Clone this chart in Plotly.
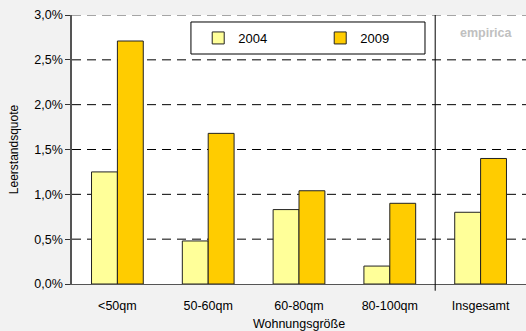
import plotly.graph_objects as go

categories = ["<50qm", "50-60qm", "60-80qm", "80-100qm", "Insgesamt"]
values_2004 = [1.25, 0.48, 0.83, 0.20, 0.80]
values_2009 = [2.71, 1.68, 1.04, 0.90, 1.40]
tick_vals = [0, 0.5, 1.0, 1.5, 2.0, 2.5, 3.0]
tick_text = ["0,0%", "0,5%", "1,0%", "1,5%", "2,0%", "2,5%", "3,0%"]

font = "Liberation Sans, Arial, sans-serif"

fig = go.Figure()
fig.add_trace(go.Bar(x=categories, y=values_2004, name="2004",
                     marker=dict(color="#ffff99", line=dict(color="#222222", width=1))))
fig.add_trace(go.Bar(x=categories, y=values_2009, name="2009",
                     marker=dict(color="#ffcc00", line=dict(color="#222222", width=1))))

shapes = []
for v in tick_vals[1:-1]:
    shapes.append(dict(type="line", xref="paper", yref="y", x0=0, x1=1, y0=v, y1=v,
                       line=dict(color="#000000", width=1, dash="9px,6px"), layer="below"))
shapes.append(dict(type="line", xref="paper", yref="y", x0=0, x1=1, y0=3.0, y1=3.0,
                   line=dict(color="#888888", width=1.5, dash="9px,6px"), layer="below"))
shapes.append(dict(type="line", xref="x", yref="y domain", x0=3.5, x1=3.5, y0=-0.025, y1=1,
                   line=dict(color="#000000", width=1)))
# legend frame
shapes.append(dict(type="rect", xref="paper", yref="paper", x0=0.262, x1=0.7775,
                   y0=0.855, y1=0.974, fillcolor="#ffffff",
                   line=dict(color="#000000", width=1), layer="above"))

fig.update_layout(
    width=526, height=331,
    margin=dict(l=72, r=0, t=15, b=47),
    paper_bgcolor="#f2f2f2", plot_bgcolor="#ffffff",
    font=dict(family=font, size=12.5, color="#000000"),
    barmode="group", bargap=0.43, bargroupgap=0,
    shapes=shapes,
    legend=dict(orientation="h", x=0.278, y=0.9145, xanchor="left", yanchor="middle",
                bgcolor="rgba(0,0,0,0)", borderwidth=0,
                font=dict(size=13), entrywidth=77, itemwidth=30),
    xaxis=dict(showgrid=False, ticks="", ticklabelstandoff=10,
               title=dict(text="Wohnungsgröße", standoff=10, font=dict(size=12.5)),
               showline=True, linecolor="#555555", linewidth=1, range=[-0.5, 4.5]),
    yaxis=dict(range=[0, 3.0], tickvals=tick_vals, ticktext=tick_text, showgrid=False,
               ticks="outside", ticklen=5, tickcolor="#333333", zeroline=False,
               showline=True, linecolor="#555555", linewidth=1.5,
               title=dict(text="Leerstandsquote", standoff=13, font=dict(size=12))),
    annotations=[dict(text="<b>empirica</b>", xref="paper", yref="paper", x=0.912, y=0.933,
                      xanchor="center", yanchor="middle",
                      showarrow=False, font=dict(size=12.5, color="#c0c0c0"))],
)

fig.write_html("out.html", config={"displayModeBar": False},
               post_script="document.body.style.margin='0';document.body.style.overflow='hidden';")
